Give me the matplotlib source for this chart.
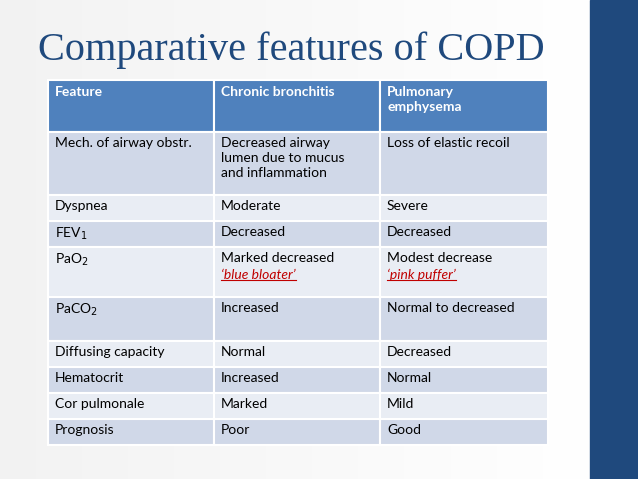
import matplotlib.pyplot as plt
import numpy as np
from matplotlib.patches import Rectangle

title = "Comparative features of COPD"
headers = ["Feature", "Chronic bronchitis", "Pulmonary\nemphysema"]
features = ["Mech. of airway obstr.", "Dyspnea", "FEV$_1$", "PaO$_2$", "PaCO$_2$",
            "Diffusing capacity", "Hematocrit", "Cor pulmonale", "Prognosis"]
bronchitis = ["Decreased airway\nlumen due to mucus\nand inflammation", "Moderate", "Decreased",
              "Marked decreased", "Increased", "Normal", "Increased", "Marked", "Poor"]
emphysema = ["Loss of elastic recoil", "Severe", "Decreased", "Modest decrease",
             "Normal to decreased", "Decreased", "Normal", "Mild", "Good"]
notes = {3: ("\u2018blue bloater\u2019", "\u2018pink puffer\u2019")}

# layout in pixels
col_x = [48, 214, 380, 548]
row_y = [80, 132, 195, 221, 247, 297, 341, 367, 393, 419, 445]

fig = plt.figure(figsize=(6.38, 4.79), dpi=100)
ax = fig.add_axes([0, 0, 1, 1])
ax.set_xlim(0, 638)
ax.set_ylim(479, 0)
ax.axis("off")

# subtle background gradient
grad = np.linspace(0.95, 1.0, 256)[None, :]
ax.imshow(np.dstack([grad, grad, grad]), extent=[0, 590, 479, 0], aspect="auto", vmin=0, vmax=1)
ax.add_patch(Rectangle((590, 0), 48, 479, color="#1F497D", zorder=1))

ax.text(38, 60, title, fontsize=29, family="Liberation Serif", color="#1F497D")

font = "Lato"
fs = 10
for i, h in enumerate(headers):
    ax.add_patch(Rectangle((col_x[i], row_y[0]), col_x[i + 1] - col_x[i], row_y[1] - row_y[0],
                           facecolor="#4F81BD", edgecolor="white", lw=1.5, zorder=2))
    ax.text(col_x[i] + 7, row_y[0] + 6, h, fontsize=fs, family=font, color="white",
            fontweight="bold", va="top", linespacing=1.3, zorder=3)

for r in range(len(features)):
    fc = "#D0D8E8" if r % 2 == 0 else "#E9EDF4"
    y0, y1 = row_y[r + 1], row_y[r + 2]
    vals = [features[r], bronchitis[r], emphysema[r]]
    for i, v in enumerate(vals):
        ax.add_patch(Rectangle((col_x[i], y0), col_x[i + 1] - col_x[i], y1 - y0,
                               facecolor=fc, edgecolor="white", lw=1.5, zorder=2))
        ax.text(col_x[i] + 7, y0 + 5, v, fontsize=fs, family=font, color="black",
                va="top", linespacing=1.3, zorder=3)
    if r in notes:
        for i, n in enumerate(notes[r]):
            t = ax.text(col_x[i + 1] + 7, y0 + 22, n, fontsize=fs, family=font, color="#C00000",
                        style="italic", va="top", zorder=3)
            fig.canvas.draw()
            bb = t.get_window_extent().transformed(ax.transData.inverted())
            ax.plot([bb.x0, bb.x1], [bb.y0 - 1, bb.y0 - 1], color="#C00000", lw=0.8, zorder=3)

fig.savefig("out.png", dpi=100)
